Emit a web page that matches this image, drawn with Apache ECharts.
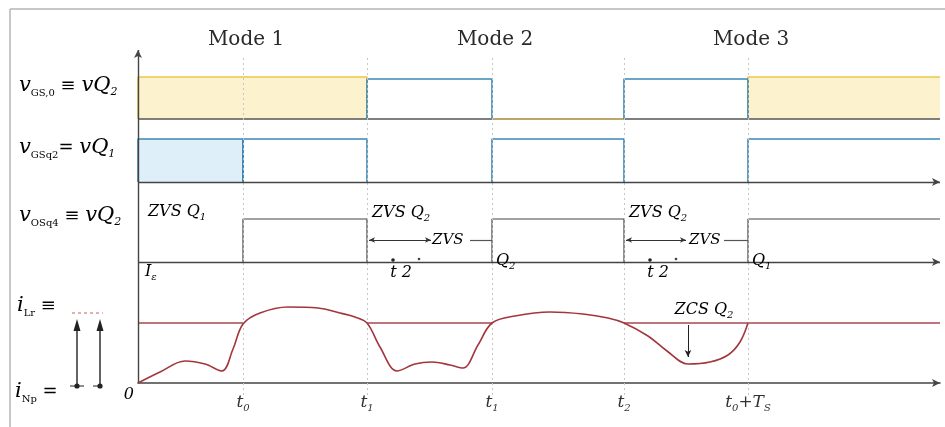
<!DOCTYPE html>
<html>
<head>
<meta charset="utf-8">
<script src="https://cdn.jsdelivr.net/npm/echarts@6/dist/echarts.min.js"></script>
<style>
  html, body { margin: 0; padding: 0; background: #fff; }
  #main { width: 945px; height: 427px; }
</style>
</head>
<body>
<div id="main"></div>
<script>
// Switching instants (normalised time units); last entry is the end of the time axis
const switchTimes = [0, 1.05, 2.29, 3.54, 4.86, 6.10, 8.02];
// Axis tick labels for switchTimes[1..5]
const tickLabels = ['{t|t}{ts|0}', '{t|t}{ts|1}', '{t|t}{ts|1}', '{t|t}{ts|2}', '{t|t}{ts|0}{t|+T}{ts|S}'];
const modeNames = ['Mode 1', 'Mode 2', 'Mode 3'];

// Gate pulses as [startIndex, endIndex] into switchTimes
const vQ2YellowPulses = [[0, 2], [5, 6]];
const vQ2BluePulses = [[2, 3], [4, 5]];
const vQ1Pulses = [[0, 1], [1, 2], [3, 4], [5, 6]];
const vQ1FilledPulses = [[0, 1]];
const vOSq4Pulses = [[1, 2], [3, 4], [5, 6]];

// Resonant inductor current i_Lr
const iLrTime  = [0, 0.22, 0.47, 0.67, 0.84, 0.95, 1.05, 1.22, 1.50, 1.80, 2.02, 2.17, 2.29,
                  2.42, 2.59, 2.77, 2.94, 3.12, 3.25, 3.40, 3.54, 3.77, 4.12, 4.45, 4.70, 4.86,
                  5.10, 5.29, 5.50, 5.72, 5.90, 6.02, 6.10];
const iLrValue = [0, 1.1, 2.2, 1.9, 1.2, 3.4, 5.9, 7.0, 7.6, 7.5, 7.0, 6.6, 6.0,
                  3.6, 1.2, 1.9, 2.1, 1.8, 1.5, 3.8, 6.0, 6.7, 7.1, 6.9, 6.5, 6.0,
                  4.7, 3.2, 1.9, 2.1, 2.8, 4.1, 6.0];
// Reference level, drawn where i_Lr dips below it
const iRefLevel = 6.0;
const iRefSpans = [[0, 1], [2, 3], [4, 6]];

// Row layout (vertical placement of the stacked traces)
const ROW1 = { base: 26.4, high: 30.6, blueHigh: 30.4 };
const ROW2 = { base: 20.1, high: 24.4 };
const ROW3 = { base: 12.1, high: 16.4 };
const Y_TOP = 33.3;
const tEnd = switchTimes[switchTimes.length - 1];

const SERIF = "'DejaVu Serif', 'Liberation Serif', serif";
const INK = '#333333';
const BLUE = '#3a86b4';
const YELLOW = '#e9c84c';
const RED = '#a3353c';

const chart = echarts.init(document.getElementById('main'), null, { renderer: 'canvas' });

const series = [];
function addLine(data, color, width, z, extra) {
  series.push(Object.assign({
    type: 'line', data: data, symbol: 'none', showSymbol: false, silent: true,
    animation: false, clip: false, z: z,
    lineStyle: { color: color, width: width }
  }, extra || {}));
}
function pulsePoints(p, base, high) {
  const a = switchTimes[p[0]], b = switchTimes[p[1]];
  const pts = [[a, base], [a, high], [b, high]];
  if (p[1] < switchTimes.length - 1) pts.push([b, base]);
  return pts;
}
function markLineSeries(z, lineStyle, symbol, symbolSize, segs) {
  series.push({
    type: 'line', data: [], z: z, silent: true, animation: false,
    markLine: {
      silent: true, animation: false, symbol: symbol, symbolSize: symbolSize,
      label: { show: false }, lineStyle: lineStyle,
      data: segs.map(s => [{ coord: s[0] }, { coord: s[1] }])
    }
  });
}

// dotted guides at each switching instant
markLineSeries(1, { color: '#c6c6c6', width: 1, type: [2, 3] }, ['none', 'none'], 0,
  switchTimes.slice(1, 6).map(t => [[t, -1.2], [t, 32.6]]));

// filled pulse areas
series.push({
  type: 'line', data: [], z: 1, silent: true, animation: false,
  markArea: {
    silent: true, animation: false,
    data: vQ2YellowPulses.map(p => [
      { coord: [switchTimes[p[0]], ROW1.base], itemStyle: { color: 'rgba(252,238,190,0.75)' } },
      { coord: [switchTimes[p[1]], ROW1.high] }
    ]).concat(vQ1FilledPulses.map(p => [
      { coord: [switchTimes[p[0]], ROW2.base], itemStyle: { color: 'rgba(214,235,248,0.8)' } },
      { coord: [switchTimes[p[1]], ROW2.high] }
    ]))
  }
});

// row 1 baseline
addLine([[0, ROW1.base], [tEnd, ROW1.base]], '#555', 1.4, 2);
// row 1: vQ2 (yellow + blue)
vQ2YellowPulses.forEach(p => addLine(pulsePoints(p, ROW1.base, ROW1.high), YELLOW, 1.6, 3));
addLine([[switchTimes[3], ROW1.base], [switchTimes[4], ROW1.base]], '#cdb45a', 1.6, 3);
vQ2BluePulses.forEach(p => addLine(pulsePoints(p, ROW1.base, ROW1.blueHigh), BLUE, 1.6, 4));
// row 2: vQ1
vQ1Pulses.forEach(p => addLine(pulsePoints(p, ROW2.base, ROW2.high), BLUE, 1.6, 4));
// row 3: vOSq4
vOSq4Pulses.forEach(p => addLine(pulsePoints(p, ROW3.base, ROW3.high), '#444', 1.2, 4));

// arrowed baselines for rows 2 and 3, and the vertical axis
markLineSeries(5, { color: '#444', width: 1.4, type: 'solid' }, ['none', 'arrow'], [6, 8], [
  [[0, ROW2.base], [tEnd, ROW2.base]],
  [[0, ROW3.base], [tEnd, ROW3.base]],
  [[0, 0], [0, Y_TOP]]
]);

// ZVS interval arrows (row 3) and ZCS marker
markLineSeries(6, { color: '#333', width: 1, type: 'solid' }, ['arrow', 'arrow'], [4, 6], [
  [[switchTimes[2] + 0.02, 14.3], [switchTimes[2] + 0.64, 14.3]],
  [[switchTimes[4] + 0.02, 14.3], [switchTimes[4] + 0.62, 14.3]]
]);
markLineSeries(6, { color: '#555', width: 1.2, type: 'solid' }, ['none', 'none'], 0, [
  [[switchTimes[2] + 1.03, 14.3], [switchTimes[3], 14.3]],
  [[switchTimes[4] + 1.0, 14.3], [switchTimes[5], 14.3]]
]);
markLineSeries(6, { color: '#222', width: 1, type: 'solid' }, ['none', 'arrow'], [5, 7], [
  [[5.50, 5.8], [5.50, 2.6]]
]);

// reference level and resonant current
iRefSpans.forEach(s => addLine([[switchTimes[s[0]], iRefLevel], [switchTimes[s[1]], iRefLevel]], '#a8474c', 1.5, 4));
addLine(iLrTime.map((t, i) => [t, iLrValue[i]]), RED, 1.6, 5, { smooth: 0.35 });

const tickRich = {
  t: { fontFamily: SERIF, fontStyle: 'italic', fontSize: 17, color: INK, lineHeight: 20 },
  ts: { fontFamily: SERIF, fontStyle: 'italic', fontSize: 10, color: INK, lineHeight: 12, verticalAlign: 'bottom' }
};

chart.setOption({
  animation: false,
  backgroundColor: '#ffffff',
  grid: { left: 138, right: 5, top: 50, bottom: 24, containLabel: false },
  xAxis: {
    type: 'value', min: 0, max: tEnd,
    axisLine: { show: true, onZero: true, symbol: ['none', 'arrow'], symbolSize: [6, 8],
      lineStyle: { color: '#444', width: 1.6 } },
    axisTick: { show: false },
    splitLine: { show: false },
    axisLabel: {
      show: true, margin: -10,
      customValues: switchTimes.slice(1, 6),
      formatter: function (v) {
        const k = switchTimes.slice(1, 6).findIndex(t => Math.abs(t - v) < 1e-6);
        return k >= 0 ? tickLabels[k] : '';
      },
      rich: tickRich
    }
  },
  yAxis: {
    type: 'value', min: -2, max: Y_TOP,
    axisLine: { show: false }, axisTick: { show: false },
    axisLabel: { show: false }, splitLine: { show: false }
  },
  series: series
});

// ---- text annotations ----
const px = (x, y) => chart.convertToPixel({ gridIndex: 0 }, [x, y]);
const rich = {
  v: { fontFamily: SERIF, fontStyle: 'italic', fontSize: 21, color: INK, lineHeight: 24 },
  r: { fontFamily: SERIF, fontSize: 18, color: INK, lineHeight: 24 },
  s: { fontFamily: SERIF, fontSize: 10, color: INK, lineHeight: 12, verticalAlign: 'bottom' },
  si: { fontFamily: SERIF, fontStyle: 'italic', fontSize: 11, color: INK, lineHeight: 12, verticalAlign: 'bottom' },
  a: { fontFamily: SERIF, fontStyle: 'italic', fontSize: 16, color: INK, lineHeight: 20 },
  as: { fontFamily: SERIF, fontStyle: 'italic', fontSize: 10, color: INK, lineHeight: 11, verticalAlign: 'bottom' },
  z: { fontFamily: SERIF, fontStyle: 'italic', fontSize: 15, color: '#c9a255', lineHeight: 20 },
  c: { fontFamily: SERIF, fontStyle: 'italic', fontSize: 16, color: '#8e3440', lineHeight: 20 },
  cs: { fontFamily: SERIF, fontStyle: 'italic', fontSize: 10, color: '#8e3440', lineHeight: 11, verticalAlign: 'bottom' }
};
function textAt(p, str, align, extra) {
  return Object.assign({
    type: 'text', x: p[0], y: p[1], silent: true, z: 20,
    style: { text: str, rich: rich, align: align || 'left', verticalAlign: 'middle' }
  }, extra || {});
}

const g = [];
// frame
g.push({ type: 'line', shape: { x1: 10, y1: 9, x2: 945, y2: 9 }, style: { stroke: '#b4b4b4', lineWidth: 1.5 }, silent: true });
g.push({ type: 'line', shape: { x1: 10, y1: 9, x2: 10, y2: 427 }, style: { stroke: '#b4b4b4', lineWidth: 1.5 }, silent: true });

// mode titles
modeNames.forEach((m, k) => {
  const p = px(switchTimes[2 * k + 1], 34.3);
  g.push({ type: 'text', x: p[0] + 3, y: p[1], silent: true, z: 20,
    style: { text: m, font: "20px " + SERIF, fill: '#2a2a2a', align: 'center', verticalAlign: 'middle' } });
});

// trace names on the left
g.push(textAt([19, 86], '{v|v}{s|GS,0}{r| ≡ }{v|vQ}{si|2}'));
g.push(textAt([19, 148], '{v|v}{s|GSq2}{r|= }{v|vQ}{si|1}'));
g.push(textAt([19, 216], '{v|v}{s|OSq4}{r| ≡ }{v|vQ}{si|2}'));
g.push(textAt([17, 306], '{v|i}{s|Lr}{r| ≡}'));
g.push(textAt([15, 392], '{v|i}{s|Np}{r| =}'));

// small current legend glyph beside i_Lr / i_Np
g.push({ type: 'line', shape: { x1: 72, y1: 313, x2: 103, y2: 313 }, style: { stroke: '#d77a7a', lineWidth: 1.2, lineDash: [3, 3] }, silent: true });
[77, 100].forEach(x => {
  g.push({ type: 'line', shape: { x1: x, y1: 386, x2: x, y2: 324 }, style: { stroke: '#222', lineWidth: 1.4 }, silent: true });
  g.push({ type: 'polygon', shape: { points: [[x - 3.5, 331], [x + 3.5, 331], [x, 319]] }, style: { fill: '#222' }, silent: true });
  g.push({ type: 'circle', shape: { cx: x, cy: 386, r: 2.6 }, style: { fill: '#222' }, silent: true });
});
g.push({ type: 'line', shape: { x1: 70, y1: 386, x2: 84, y2: 386 }, style: { stroke: '#222', lineWidth: 1 }, silent: true });
g.push({ type: 'line', shape: { x1: 93, y1: 386, x2: 100, y2: 386 }, style: { stroke: '#222', lineWidth: 1 }, silent: true });

// origin label
const o = px(0, 0);
g.push(textAt([o[0] - 4, o[1] + 12], '{a|0}', 'right'));

// row 3 annotations
g.push(textAt(px(0.10, 17.1), '{a|ZVS Q}{as|1}'));
g.push(textAt(px(0.07, 11.1), '{a|I}{as|ε}'));
[[2, 3, 'Q', '2'], [4, 5, 'Q', '1']].forEach(d => {
  const t0 = switchTimes[d[0]], t1 = switchTimes[d[1]];
  g.push(textAt(px(t0 + 0.05, 17.0), '{a|ZVS Q}{as|2}'));
  g.push(textAt(px(t0 + 0.65, 14.3), '{z|ZVS}'));
  g.push(textAt(px(t0 + 0.34, 11.0), '{a|t 2}', 'center'));
  const d1 = px(t0 + 0.26, 12.3), d2 = px(t0 + 0.52, 12.4);
  g.push({ type: 'circle', shape: { cx: d1[0], cy: d1[1], r: 1.8 }, style: { fill: '#222' }, silent: true, z: 20 });
  g.push({ type: 'circle', shape: { cx: d2[0], cy: d2[1], r: 1.3 }, style: { fill: '#444' }, silent: true, z: 20 });
  g.push(textAt(px(t1 + 0.04, 12.2), '{a|' + d[2] + '}{as|' + d[3] + '}'));
});

// ZCS marker in the current trace
g.push(textAt(px(5.66, 7.3), '{c|ZCS Q}{cs|2}', 'center'));

chart.setOption({ graphic: g });
</script>
</body>
</html>
